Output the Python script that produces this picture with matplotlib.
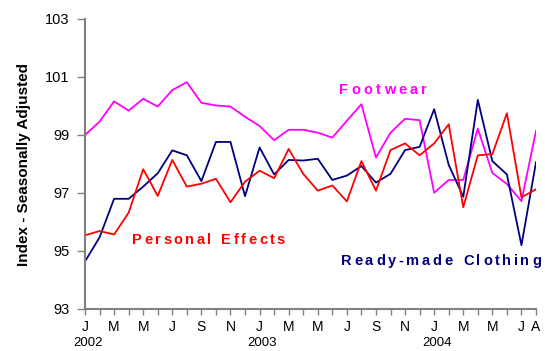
import numpy as np
import matplotlib
matplotlib.use('Agg')
import matplotlib.pyplot as plt
import matplotlib.transforms as mtransforms

plt.rcParams['font.family'] = ['Liberation Sans', 'DejaVu Sans']

# monthly index values, Jan 2002 - Aug 2004
footwear = [99.0, 99.46, 100.16, 99.84, 100.25, 99.98, 100.55, 100.82, 100.11, 100.02, 99.98, 99.63,
            99.31, 98.82, 99.18, 99.18, 99.08, 98.91, 99.49, 100.06, 98.22, 99.08, 99.56, 99.51,
            97.01, 97.45, 97.45, 99.22, 97.69, 97.31, 96.72, 99.14]
clothing = [94.64, 95.47, 96.80, 96.80, 97.22, 97.68, 98.47, 98.30, 97.41, 98.76, 98.76, 96.89,
            98.57, 97.64, 98.14, 98.12, 98.18, 97.45, 97.60, 97.93, 97.36, 97.66, 98.48, 98.59,
            99.89, 97.97, 96.87, 100.21, 98.10, 97.64, 95.20, 98.06]
personal = [95.54, 95.69, 95.57, 96.32, 97.82, 96.90, 98.14, 97.22, 97.32, 97.49, 96.68, 97.39,
            97.77, 97.51, 98.52, 97.66, 97.08, 97.26, 96.71, 98.10, 97.08, 98.48, 98.71, 98.30,
            98.71, 99.37, 96.51, 98.30, 98.34, 99.75, 96.85, 97.13]

month_labels = ['J', 'M', 'M', 'J', 'S', 'N'] * 2 + ['J', 'M', 'M', 'J', 'A']
years = ['2002', '2003', '2004']

fig = plt.figure(figsize=(5.45, 3.51), dpi=100)
ax = fig.add_axes([85 / 545, 1 - 309 / 351, (536 - 85) / 545, (309 - 19) / 351])

x = np.arange(len(footwear))
ax.plot(x, footwear, color='#FF00FF', lw=1.3)
ax.plot(x, clothing, color='#000080', lw=1.3)
ax.plot(x, personal, color='#FF0000', lw=1.3)

ax.set_xlim(0, len(x) - 1)
ax.set_ylim(93, 103)
ax.set_yticks(np.arange(93, 104, 2))
ax.set_xticks(x, minor=True)
major = list(range(0, 31, 2)) + [31]
ax.set_xticks(major)
ax.set_xticklabels(month_labels, fontsize=10)
ax.tick_params(axis='y', labelsize=10.5, length=6, width=1, color='#808080', pad=5)
ax.tick_params(axis='x', which='both', length=4, width=1, color='#808080', pad=4)

for s in ['top', 'right']:
    ax.spines[s].set_visible(False)
for s in ['left', 'bottom']:
    ax.spines[s].set_color('#808080')
    ax.spines[s].set_linewidth(1.5)

ax.set_ylabel('Index - Seasonally Adjusted', fontsize=11, fontweight='bold', labelpad=10)

trans = mtransforms.blended_transform_factory(ax.transData, fig.transFigure)
for i, yr in enumerate(years):
    ax.text(i * 12 + 0.2, 14 / 351, yr, transform=trans, ha='center', va='top', fontsize=9.5)

renderer = fig.canvas.get_renderer()
ident = mtransforms.IdentityTransform()


def spaced_text(s, x0, x1, ybase, color, size=10.5):
    # lay out letters one by one so the word spans x0..x1 (pixels)
    parts = []
    for ch in s:
        t = fig.text(0, ybase, ch if ch != ' ' else 'n', transform=ident, color=color,
                     fontsize=size, fontweight='bold', va='baseline')
        w = t.get_window_extent(renderer).width
        if ch == ' ':
            t.set_text('')
            w *= 0.6
        parts.append((t, w))
    gap = (x1 - x0 - sum(w for _, w in parts)) / (len(parts) - 1)
    pos = x0
    for t, w in parts:
        t.set_x(pos)
        pos += w + gap


spaced_text('Footwear', 339, 427, 351 - 94, '#FF00FF')
spaced_text('Personal Effects', 132, 285, 351 - 243.5, '#FF0000')
spaced_text('Ready-made Clothing', 341, 541, 351 - 265, '#000080')

fig.savefig('out.png', dpi=100)
